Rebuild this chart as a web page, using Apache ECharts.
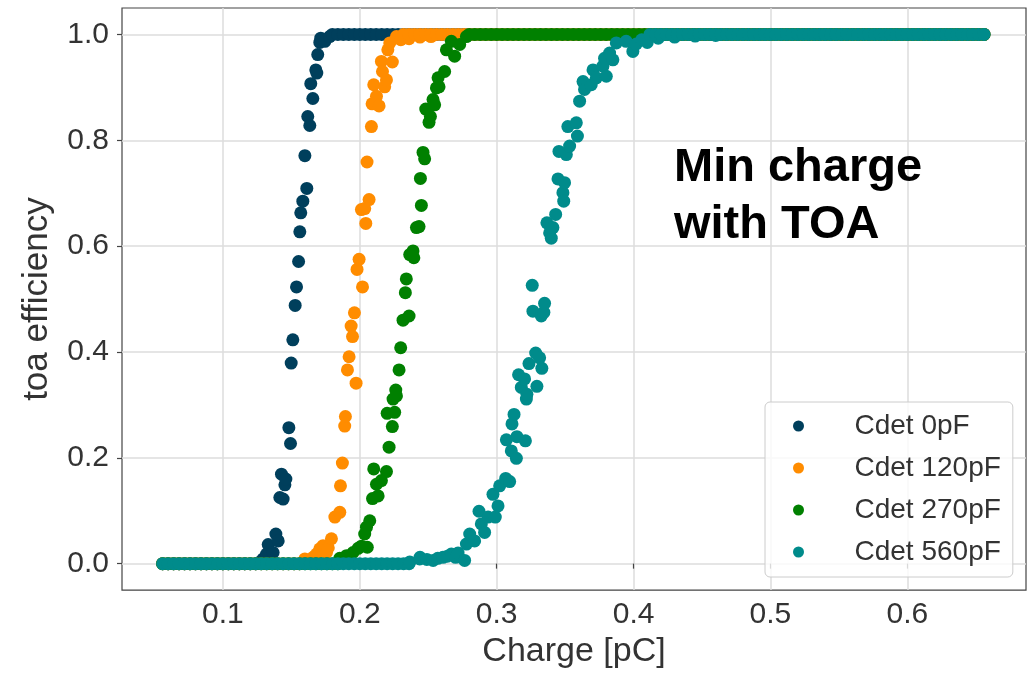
<!DOCTYPE html>
<html>
<head>
<meta charset="utf-8">
<title>toa efficiency</title>
<script src="https://cdn.jsdelivr.net/npm/echarts@6/dist/echarts.min.js"></script>
<style>
  html, body { margin: 0; padding: 0; background: #fff; }
  #chart { width: 1032px; height: 674px; }
</style>
</head>
<body>
<div id="chart"></div>
<script>
// charge scan points [pC] shared by all runs (plateau parts)
const chargeScan = [
  0.056, 0.060, 0.064, 0.068, 0.072, 0.076, 0.080, 0.084, 0.088, 0.092,
  0.096, 0.100, 0.104, 0.108, 0.112, 0.116, 0.120, 0.124, 0.128, 0.132,
  0.136, 0.140, 0.144, 0.148, 0.152, 0.156, 0.160, 0.164, 0.168, 0.172,
  0.176, 0.180, 0.184, 0.188, 0.192, 0.196, 0.200, 0.204, 0.208, 0.212,
  0.216, 0.220, 0.224, 0.228, 0.232, 0.236, 0.240, 0.244, 0.248, 0.252,
  0.256, 0.260, 0.264, 0.268, 0.272, 0.276, 0.280, 0.284, 0.288, 0.292,
  0.296, 0.300, 0.304, 0.308, 0.312, 0.316, 0.320, 0.324, 0.328, 0.332,
  0.336, 0.340, 0.344, 0.348, 0.352, 0.356, 0.360, 0.364, 0.368, 0.372,
  0.376, 0.380, 0.384, 0.388, 0.392, 0.396, 0.400, 0.404, 0.408, 0.412,
  0.416, 0.420, 0.424, 0.428, 0.432, 0.436, 0.440, 0.444, 0.448, 0.452,
  0.456, 0.460, 0.464, 0.468, 0.472, 0.476, 0.480, 0.484, 0.488, 0.492,
  0.496, 0.500, 0.504, 0.508, 0.512, 0.516, 0.520, 0.524, 0.528, 0.532,
  0.536, 0.540, 0.544, 0.548, 0.552, 0.556, 0.560, 0.564, 0.568, 0.572,
  0.576, 0.580, 0.584, 0.588, 0.592, 0.596, 0.600, 0.604, 0.608, 0.612,
  0.616, 0.620, 0.624, 0.628, 0.632, 0.636, 0.640, 0.644, 0.648, 0.652,
  0.656
];

const seriesNames = ['Cdet 0pF', 'Cdet 120pF', 'Cdet 270pF', 'Cdet 560pF'];
const seriesColors = ['#003f5c', '#ff8c00', '#008000', '#008b8b'];

// efficiency is 0 up to lowEnd and 1 from highStart on
const lowEnd = [0.124, 0.156, 0.184, 0.236];
const highStart = [0.180, 0.232, 0.280, 0.412];

// points in the turn-on region [charge, efficiency]
const rise0pF = [
  [0.1270, 0.003], [0.1294, 0.009], [0.1319, 0.018], [0.1331, 0.036], [0.1367, 0.021],
  [0.1387, 0.056], [0.1404, 0.043], [0.1416, 0.125], [0.1428, 0.169], [0.1440, 0.122],
  [0.1453, 0.149], [0.1460, 0.160], [0.1482, 0.257], [0.1494, 0.227], [0.1499, 0.379],
  [0.1511, 0.423], [0.1528, 0.488], [0.1538, 0.523], [0.1553, 0.571], [0.1562, 0.627],
  [0.1569, 0.663], [0.1584, 0.685], [0.1599, 0.771], [0.1613, 0.709], [0.1620, 0.845],
  [0.1635, 0.828], [0.1642, 0.907], [0.1657, 0.879], [0.1679, 0.933], [0.1686, 0.927],
  [0.1693, 0.962], [0.1708, 0.985], [0.1715, 0.993], [0.1745, 0.987], [0.1780, 0.996]
];
const rise120pF = [
  [0.1599, 0.009], [0.1659, 0.012], [0.1684, 0.018], [0.1708, 0.028], [0.1732, 0.034],
  [0.1757, 0.021], [0.1770, 0.030], [0.1793, 0.047], [0.1818, 0.088], [0.1854, 0.097],
  [0.1859, 0.147], [0.1873, 0.190], [0.1890, 0.260], [0.1895, 0.278], [0.1910, 0.366],
  [0.1922, 0.391], [0.1937, 0.449], [0.1947, 0.429], [0.1961, 0.474], [0.1973, 0.341],
  [0.1980, 0.556], [0.1995, 0.575], [0.2012, 0.669], [0.2020, 0.523], [0.2036, 0.671],
  [0.2044, 0.643], [0.2053, 0.759], [0.2068, 0.688], [0.2085, 0.826], [0.2090, 0.869],
  [0.2102, 0.905], [0.2122, 0.883], [0.2141, 0.865], [0.2158, 0.949], [0.2166, 0.930],
  [0.2182, 0.901], [0.2195, 0.914], [0.2205, 0.971], [0.2219, 0.984], [0.2238, 0.948],
  [0.2268, 0.996], [0.2300, 0.990], [0.2360, 0.992], [0.2440, 0.995], [0.2520, 0.996]
];
const rise270pF = [
  [0.1854, 0.010], [0.1903, 0.015], [0.1951, 0.021], [0.1988, 0.029], [0.2012, 0.033],
  [0.2036, 0.056], [0.2049, 0.069], [0.2055, 0.031], [0.2073, 0.081], [0.2093, 0.123],
  [0.2102, 0.179], [0.2122, 0.150], [0.2134, 0.128], [0.2158, 0.157], [0.2195, 0.174],
  [0.2200, 0.284], [0.2214, 0.220], [0.2238, 0.259], [0.2243, 0.311], [0.2255, 0.286],
  [0.2263, 0.328], [0.2268, 0.317], [0.2287, 0.366], [0.2299, 0.408], [0.2316, 0.460],
  [0.2333, 0.512], [0.2340, 0.538], [0.2360, 0.468], [0.2365, 0.584], [0.2389, 0.591],
  [0.2395, 0.578], [0.2414, 0.635], [0.2433, 0.637], [0.2443, 0.728], [0.2450, 0.677],
  [0.2462, 0.777], [0.2474, 0.765], [0.2482, 0.859], [0.2506, 0.834], [0.2516, 0.845],
  [0.2535, 0.877], [0.2547, 0.867], [0.2560, 0.899], [0.2572, 0.918], [0.2579, 0.901],
  [0.2620, 0.930], [0.2633, 0.971], [0.2669, 0.987], [0.2693, 0.959], [0.2730, 0.981],
  [0.2779, 0.996]
];
const rise560pF = [
  [0.2365, 0.003], [0.2438, 0.009], [0.2440, 0.012], [0.2490, 0.008], [0.2536, 0.006],
  [0.2570, 0.010], [0.2608, 0.012], [0.2640, 0.014], [0.2669, 0.018], [0.2700, 0.012],
  [0.2718, 0.020], [0.2766, 0.006], [0.2779, 0.037], [0.2803, 0.056], [0.2839, 0.043],
  [0.2871, 0.099], [0.2888, 0.075], [0.2912, 0.059], [0.2937, 0.088], [0.2973, 0.131],
  [0.2990, 0.088], [0.3010, 0.109], [0.3022, 0.147], [0.3066, 0.161], [0.3071, 0.234],
  [0.3095, 0.155], [0.3107, 0.213], [0.3112, 0.264], [0.3127, 0.282], [0.3144, 0.199],
  [0.3148, 0.240], [0.3160, 0.357], [0.3180, 0.333], [0.3204, 0.349], [0.3210, 0.232],
  [0.3217, 0.311], [0.3221, 0.320], [0.3236, 0.378], [0.3260, 0.526], [0.3265, 0.477],
  [0.3285, 0.398], [0.3294, 0.335], [0.3314, 0.389], [0.3326, 0.468], [0.3330, 0.369],
  [0.3345, 0.475], [0.3350, 0.492], [0.3367, 0.644], [0.3387, 0.625], [0.3399, 0.615],
  [0.3411, 0.635], [0.3431, 0.660], [0.3448, 0.727], [0.3455, 0.779], [0.3484, 0.701],
  [0.3490, 0.685], [0.3496, 0.720], [0.3509, 0.773], [0.3520, 0.826], [0.3533, 0.789],
  [0.3582, 0.833], [0.3590, 0.808], [0.3606, 0.874], [0.3631, 0.911], [0.3642, 0.896],
  [0.3691, 0.905], [0.3704, 0.933], [0.3728, 0.918], [0.3776, 0.940], [0.3788, 0.955],
  [0.3801, 0.921], [0.3825, 0.965], [0.3849, 0.952], [0.3874, 0.984], [0.3946, 0.987],
  [0.3995, 0.968], [0.4020, 0.982], [0.4060, 0.990], [0.4100, 0.985], [0.4180, 0.993],
  [0.4300, 0.995], [0.4450, 0.997], [0.4600, 0.998]
];
const risePoints = [rise0pF, rise120pF, rise270pF, rise560pF];

const xTicks = [0.1, 0.2, 0.3, 0.4, 0.5, 0.6];
const yTicks = [0.0, 0.2, 0.4, 0.6, 0.8, 1.0];

const FONT = 'Liberation Sans';

const buildData = (i) => {
  const low = chargeScan.filter((q) => q <= lowEnd[i]).map((q) => [q, 0]);
  const high = chargeScan.filter((q) => q >= highStart[i]).map((q) => [q, 1]);
  return low.concat(risePoints[i], high);
};

const myChart = echarts.init(document.getElementById('chart'));

const option = {
  animation: false,
  backgroundColor: '#fff',
  grid: {
    left: 122,
    right: 6,
    top: 8,
    bottom: 82,
    show: true,
    borderColor: '#444',
    borderWidth: 1.2,
  },
  xAxis: {
    type: 'value',
    min: 0.0263,
    max: 0.6867,
    name: 'Charge [pC]',
    nameLocation: 'middle',
    nameGap: 43,
    nameTextStyle: { fontFamily: FONT, fontSize: 34, color: '#333' },
    axisLine: { show: false },
    axisTick: { show: true, length: 5, customValues: xTicks, lineStyle: { color: '#444', width: 1.2 } },
    axisLabel: {
      customValues: xTicks,
      margin: 10,
      fontFamily: FONT,
      fontSize: 30,
      color: '#333',
      formatter: (v) => v.toFixed(1),
    },
    splitLine: { show: true, lineStyle: { color: '#dcdcdc', width: 1.5 } },
  },
  yAxis: {
    type: 'value',
    min: -0.05,
    max: 1.05,
    name: 'toa efficiency',
    nameLocation: 'middle',
    nameGap: 67,
    nameTextStyle: { fontFamily: FONT, fontSize: 35, color: '#333' },
    axisLine: { show: false },
    axisTick: { show: true, length: 5, customValues: yTicks, lineStyle: { color: '#444', width: 1.2 } },
    axisLabel: {
      customValues: yTicks,
      margin: 13,
      fontFamily: FONT,
      fontSize: 30,
      color: '#333',
      formatter: (v) => v.toFixed(1),
    },
    splitLine: { show: true, lineStyle: { color: '#dcdcdc', width: 1.5 } },
  },
  legend: {
    orient: 'vertical',
    left: 765,
    top: 402,
    itemWidth: 22,
    itemHeight: 11,
    itemGap: 12,
    padding: [9, 12, 10, 28],
    backgroundColor: 'rgba(255,255,255,0.8)',
    borderColor: '#cccccc',
    borderWidth: 1,
    borderRadius: 5,
    textStyle: { fontFamily: FONT, fontSize: 28, color: '#333', lineHeight: 30, padding: [0, 0, 0, 40] },
    data: seriesNames,
  },
  graphic: [
    {
      type: 'text',
      left: 674,
      top: 140,
      z: 200,
      style: {
        text: 'Min charge\nwith TOA',
        fontFamily: FONT,
        fontWeight: 'bold',
        fontSize: 47,
        lineHeight: 57,
        fill: '#000',
      },
    },
  ],
  series: seriesNames.map((name, i) => ({
    name,
    type: 'scatter',
    symbol: 'circle',
    symbolSize: 13,
    itemStyle: { color: seriesColors[i], opacity: 1 },
    data: buildData(i),
  })),
};

myChart.setOption(option);
</script>
</body>
</html>
